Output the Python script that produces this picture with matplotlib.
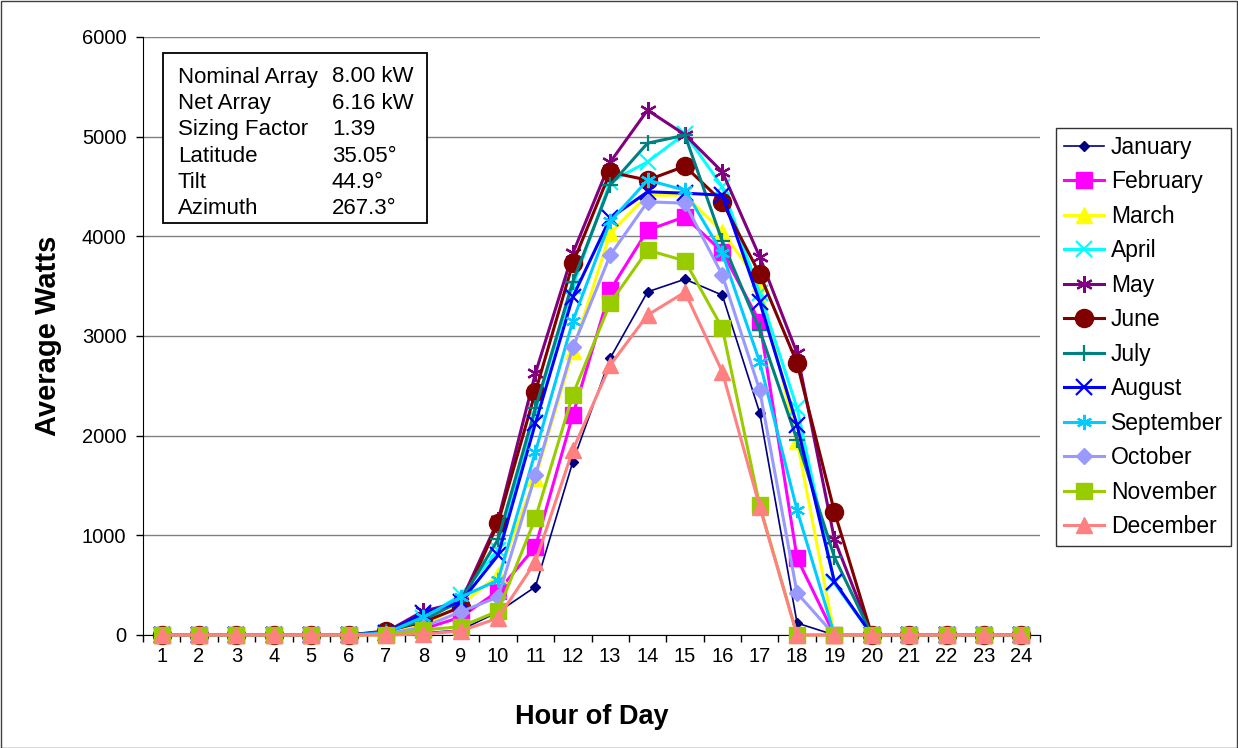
import matplotlib
matplotlib.use("Agg")
import matplotlib.pyplot as plt
from matplotlib.patches import Rectangle

plt.rcParams['font.family'] = ['Liberation Sans', 'DejaVu Sans']

hours = list(range(1, 25))
months = ["January", "February", "March", "April", "May", "June", "July",
          "August", "September", "October", "November", "December"]

z6 = [0, 0, 0, 0, 0, 0]
z4 = [0, 0, 0, 0]
# hours 7..20 for each month
january   = z6 + [0, 20, 50, 230, 484, 1738, 2778, 3443, 3570, 3410, 2230, 120, 0, 0] + z4
february  = z6 + [10, 60, 180, 440, 886, 2206, 3460, 4062, 4196, 3845, 3142, 772, 0, 0] + z4
march     = z6 + [10, 100, 300, 600, 1580, 2850, 4032, 4414, 4413, 4045, 3530, 1945, 0, 0] + z4
april     = z6 + [20, 170, 400, 850, 2260, 3500, 4547, 4747, 5030, 4497, 3430, 2277, 520, 0] + z4
may       = z6 + [30, 240, 330, 1150, 2627, 3830, 4744, 5266, 5020, 4647, 3795, 2828, 960, 0] + z4
june      = z6 + [40, 130, 280, 1123, 2441, 3730, 4644, 4564, 4704, 4346, 3621, 2728, 1237, 0] + z4
july      = z6 + [30, 150, 340, 960, 2277, 3545, 4513, 4935, 5015, 3950, 3059, 1956, 780, 0] + z4
august    = z6 + [20, 220, 330, 800, 2126, 3393, 4183, 4447, 4433, 4413, 3343, 2106, 535, 0] + z4
september = z6 + [20, 180, 380, 550, 1838, 3150, 4150, 4564, 4463, 3830, 2741, 1254, 0, 0] + z4
october   = z6 + [10, 80, 234, 380, 1605, 2885, 3811, 4346, 4333, 3611, 2457, 421, 0, 0] + z4
november  = z6 + [0, 50, 84, 240, 1173, 2412, 3330, 3862, 3754, 3079, 1300, 0, 0, 0] + z4
december  = z6 + [0, 10, 40, 170, 735, 1855, 2708, 3210, 3440, 2641, 1287, 0, 0, 0] + z4

series = [january, february, march, april, may, june, july, august,
          september, october, november, december]

colors = ["#000080", "#FF00FF", "#FFFF00", "#00FFFF", "#800080", "#800000",
          "#008080", "#0000FF", "#00CCFF", "#9999FF", "#99CC00", "#FF8080"]
markers = ["D", "s", "^", "x", (6, 2, 0), "o", "+", "x", (6, 2, 0), "D", "s", "^"]
msizes = [5, 11, 11, 11, 12, 13, 12, 11, 11, 8, 11, 11]
lws = [1.2, 2.2, 2.2, 2.2, 2.2, 2.2, 2.2, 2.2, 2.2, 2.2, 2.2, 2.2]

info_labels = ["Nominal Array", "Net Array", "Sizing Factor", "Latitude", "Tilt", "Azimuth"]
info_values = ["8.00 kW", "6.16 kW", "1.39", "35.05°", "44.9°", "267.3°"]

W, H = 1238, 748
fig = plt.figure(figsize=(W / 100, H / 100), dpi=100)
ax = fig.add_axes([143 / W, 1 - 635 / H, (1040 - 143) / W, (635 - 37) / H])

for name, vals, c, m, ms, lw in zip(months, series, colors, markers, msizes, lws):
    mew = 1.6 if m in ("x", "+") or isinstance(m, tuple) else 1.0
    ax.plot(hours, vals, color=c, lw=lw, marker=m, markersize=ms,
            markerfacecolor=c, markeredgecolor=c, markeredgewidth=mew,
            label=name, clip_on=False, zorder=3)

ax.set_xlim(0.5, 24.5)
ax.set_ylim(0, 6000)
ax.set_yticks(range(0, 6001, 1000))
ax.set_xticks(hours)
ax.set_xticks([h + 0.5 for h in range(0, 25)], minor=True)
ax.tick_params(axis='x', which='major', length=0, labelsize=14.5, pad=9)
ax.tick_params(axis='x', which='minor', length=5, width=1, direction='out')
ax.tick_params(axis='y', which='major', length=5, width=1, direction='out',
               labelsize=14.5, pad=7)
ax.grid(axis='y', color='#808080', lw=1.0, zorder=0)
for s in ['top', 'right']:
    ax.spines[s].set_visible(False)
ax.spines['left'].set_color('#000000')
ax.spines['bottom'].set_color('#000000')
ax.set_axisbelow(True)

ax.set_xlabel("Hour of Day", fontsize=19.5, fontweight='bold', labelpad=27)
ax.set_ylabel("Average Watts", fontsize=21, fontweight='bold', labelpad=14)

# info box
bx0, bx1 = (163 - 143) / 897, (427 - 143) / 897
by0, by1 = (635 - 223) / 598, (635 - 53) / 598
ax.add_patch(Rectangle((bx0, by0), bx1 - bx0, by1 - by0, transform=ax.transAxes,
                       facecolor='white', edgecolor='black', lw=1.3, zorder=5))
for i, (lab, val) in enumerate(zip(info_labels, info_values)):
    yy = (635 - (77 + i * 26.4)) / 598
    ax.text((178 - 143) / 897, yy, lab, transform=ax.transAxes, fontsize=16,
            va='center', ha='left', zorder=6)
    ax.text((332 - 143) / 897, yy, val, transform=ax.transAxes, fontsize=16,
            va='center', ha='left', zorder=6)

leg = fig.legend(loc='upper left', bbox_to_anchor=(1056 / W, 1 - 128 / H),
                 frameon=True, fancybox=False, edgecolor='black', fontsize=16.5,
                 handlelength=1.75, labelspacing=0.5, borderpad=0.35,
                 handletextpad=0.3, borderaxespad=0)
leg.get_frame().set_linewidth(1.0)

fig.add_artist(Rectangle((0.5 / W, 0.5 / H), 1 - 1.5 / W, 1 - 1.5 / H,
                         transform=fig.transFigure, fill=False,
                         edgecolor='#404040', lw=1.0))

fig.savefig("out.png", dpi=100)
